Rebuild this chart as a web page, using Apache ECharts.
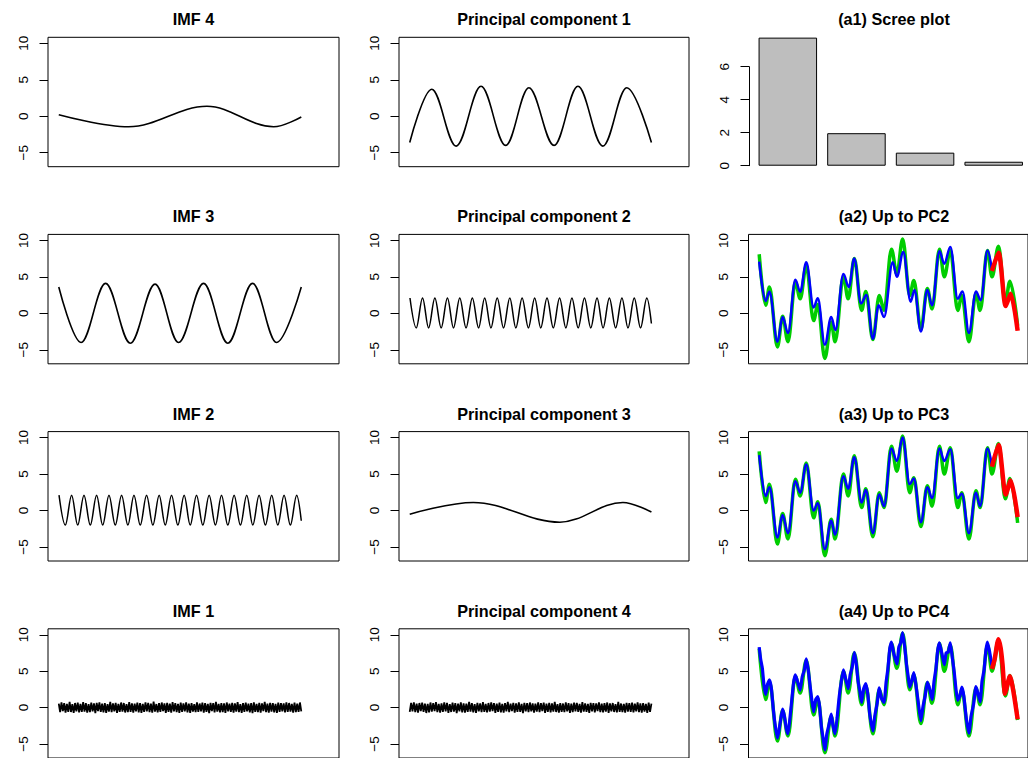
<!DOCTYPE html>
<html><head><meta charset="utf-8">
<script src="https://cdn.jsdelivr.net/npm/echarts@6/dist/echarts.min.js"></script>
<style>html,body{margin:0;padding:0;background:#fff}#c{width:1028px;height:758px}</style>
</head><body><div id="c"></div>
<script>
// ---------- data (time index 0..100 observed, 100..111 forecast) ----------
const panelTitles = [
  ["IMF 4", "Principal component 1", "(a1) Scree plot"],
  ["IMF 3", "Principal component 2", "(a2) Up to PC2"],
  ["IMF 2", "Principal component 3", "(a3) Up to PC3"],
  ["IMF 1", "Principal component 4", "(a4) Up to PC4"]
];
const yTicks = [-5, 0, 5, 10];
const screeCats = ["PC1", "PC2", "PC3", "PC4"];
const screeValues = [7.76, 1.97, 0.79, 0.24];

const imf4 = [[0,0.2],[28.8,-1.45],[61.1,1.36],[88.6,-1.45],[100,-0.1]];
const imf3 = [[0,3.6],[9.2,-4.0],[19.3,4.1],[29.5,-4.1],[39.7,4.0],[49.4,-4.0],[59.7,4.1],[69.7,-4.1],[79.9,4.1],[89.8,-4.0],[100,3.6]];
const imf2 = [[0.1,2.1],[2.7,-2.0],[5.3,2.1],[7.8,-2.0],[10.4,2.1],[13.0,-2.0],[15.6,2.1],[18.1,-2.0],[20.7,2.1],[23.3,-2.0],[25.9,2.1],[28.5,-2.0],[31.0,2.1],[33.6,-2.0],[36.2,2.1],[38.8,-2.0],[41.4,2.1],[43.9,-2.0],[46.5,2.1],[49.1,-2.0],[51.7,2.1],[54.2,-2.0],[56.8,2.1],[59.4,-2.0],[62.0,2.1],[64.6,-2.0],[67.1,2.1],[69.7,-2.0],[72.3,2.1],[74.9,-2.0],[77.5,2.1],[80.0,-2.0],[82.6,2.1],[85.2,-2.0],[87.8,2.1],[90.3,-2.0],[92.9,2.1],[95.5,-2.0],[98.1,2.1],[100,-1.4]];
const imf1 = [0.55,-0.62,0.71,-0.48,0.6,-0.69,0.52,-0.57,0.77,-0.6,0.46,-0.72,0.63,-0.51,0.68,-0.64,0.5,-0.58,0.74,-0.55,0.61,-0.7,0.47,-0.63,0.69,-0.52,0.58,-0.75,0.64,-0.49,0.72,-0.6,0.53,-0.66,0.6,-0.71,0.49,-0.56,0.8,-0.62,0.57,-0.5,0.66,-0.73,0.52,-0.6,0.7,-0.54,0.63,-0.67,0.48,-0.61,0.75,-0.57,0.59,-0.69,0.54,-0.5,0.68,-0.64,0.6,-0.74,0.51,-0.58,0.72,-0.53,0.65,-0.62,0.56,-0.7,0.82,-0.55,0.49,-0.66,0.62,-0.6,0.7,-0.48,0.57,-0.72,0.64,-0.57,0.53,-0.68,0.76,-0.52,0.6,-0.63,0.5,-0.71,0.67,-0.59,0.58,-0.5,0.71,-0.65,0.55,-0.74,0.62,-0.56,0.48,-0.62,0.73,-0.6,0.56,-0.53,0.69,-0.7,0.61,-0.58,0.52,-0.76,0.66,-0.49,0.6,-0.64,0.78,-0.55,0.5,-0.67,0.63,-0.61,0.57,-0.72,0.7,-0.5,0.54,-0.6,0.65,-0.69,0.59,-0.54,0.74,-0.63,0.49,-0.71,0.62,-0.57,0.68,-0.52,0.55,-0.66,0.6,-0.75,0.71,-0.59,0.51,-0.62,0.64,-0.7,0.58,-0.48,0.77,-0.61,0.53,-0.68,0.66,-0.56,0.6,-0.64,0.5,-0.73,0.69,-0.58,0.62,-0.5,0.57,-0.67,0.72,-0.6,0.63,-0.55,0.51,-0.7,0.67,-0.62,0.56,-0.59,0.7,-0.52];

const pc1 = [[0,-3.6],[9.1,3.7],[19.2,-4.1],[29.5,4.1],[39.7,-4.0],[49.3,3.9],[59.7,-4.0],[69.6,4.1],[79.9,-4.1],[89.8,3.9],[100,-3.6]];
const pc2 = [[0.1,2.1],[2.7,-2.0],[5.3,2.1],[7.8,-2.0],[10.4,2.1],[13.0,-2.0],[15.6,2.1],[18.1,-2.0],[20.7,2.1],[23.3,-2.0],[25.9,2.1],[28.5,-2.0],[31.0,2.1],[33.6,-2.0],[36.2,2.1],[38.8,-2.0],[41.4,2.1],[43.9,-2.0],[46.5,2.1],[49.1,-2.0],[51.7,2.1],[54.2,-2.0],[56.8,2.1],[59.4,-2.0],[62.0,2.1],[64.6,-2.0],[67.1,2.1],[69.7,-2.0],[72.3,2.1],[74.9,-2.0],[77.5,2.1],[80.0,-2.0],[82.6,2.1],[85.2,-2.0],[87.8,2.1],[90.3,-2.0],[92.9,2.1],[95.5,-2.0],[98.1,2.1],[100,-1.4]];
const pc3 = [[0,-0.5],[26.3,1.1],[62.1,-1.6],[88.2,1.1],[100,-0.2]];
const pc4 = [-0.58,0.66,-0.5,0.72,-0.61,0.54,-0.7,0.63,-0.47,0.69,-0.6,0.56,-0.74,0.52,-0.65,0.7,-0.55,0.61,-0.49,0.76,-0.63,0.5,-0.68,0.59,-0.57,0.73,-0.52,0.64,-0.71,0.48,-0.6,0.67,-0.54,0.62,-0.76,0.55,-0.5,0.71,-0.64,0.58,-0.69,0.53,-0.59,0.8,-0.56,0.6,-0.66,0.49,-0.72,0.65,-0.51,0.57,-0.62,0.74,-0.6,0.52,-0.67,0.63,-0.55,0.7,-0.48,0.61,-0.73,0.56,-0.58,0.68,-0.64,0.5,-0.7,0.6,-0.53,0.79,-0.61,0.55,-0.49,0.66,-0.68,0.59,-0.57,0.72,-0.6,0.51,-0.75,0.64,-0.52,0.62,-0.63,0.7,-0.5,0.57,-0.69,0.54,-0.56,0.73,-0.61,0.6,-0.48,0.67,-0.72,0.53,-0.59,0.65,-0.66,0.58,-0.54,0.77,-0.6,0.49,-0.7,0.62,-0.57,0.56,-0.63,0.71,-0.51,0.6,-0.74,0.55,-0.62,0.68,-0.5,0.64,-0.58,0.52,-0.69,0.75,-0.56,0.59,-0.6,0.5,-0.71,0.66,-0.53,0.61,-0.65,0.57,-0.48,0.72,-0.62,0.54,-0.67,0.6,-0.55,0.7,-0.73,0.58,-0.52,0.63,-0.6,0.49,-0.66,0.78,-0.57,0.56,-0.62,0.51,-0.7,0.65,-0.54,0.6,-0.59,0.69,-0.64,0.53,-0.5,0.73,-0.61,0.58,-0.68,0.62,-0.56,0.5,-0.72,0.67,-0.6,0.55];

// reconstructions (column 3)
const observed = [[0.15,8.1],[2.9,1.1],[4.55,3.6],[7.99,-4.6],[10.19,-0.4],[12.52,-3.9],[15.68,4.3],[17.75,2.0],[20.36,6.5],[23.52,-1.0],[25.31,1.2],[28.33,-6.2],[31.08,-1.2],[32.73,-3.9],[36.3,5.0],[38.36,2.0],[40.98,7.5],[44.14,0.4],[45.92,3.0],[48.95,-3.6],[51.7,2.45],[53.76,0.4],[56.92,8.8],[59.26,5.4],[61.73,10.2],[64.76,2.45],[66.54,4.5],[69.57,-2.2],[72.32,3.4],[74.38,0.6],[77.54,8.8],[79.6,5.0],[82.21,8.6],[85.37,0.4],[87.16,2.45],[90.19,-3.9],[93.21,2.7],[95.0,0.4],[98.16,8.6],[100.08,5.0],[102.9,9.2],[105.8,1.6],[107.8,4.4],[111.1,-1.7]];
const upToPC2 = [[0.15,7.1],[2.9,1.7],[4.55,2.95],[7.99,-3.9],[10.19,-0.5],[12.52,-2.7],[15.68,4.6],[17.75,2.95],[20.36,7.0],[23.52,0.8],[25.31,2.05],[28.33,-4.3],[31.08,-0.5],[32.86,-2.3],[36.3,5.4],[38.63,3.6],[40.98,7.5],[43.86,1.36],[46.2,2.5],[48.95,-3.5],[51.43,1.1],[53.76,-0.5],[57.46,7.0],[59.26,5.0],[62.0,8.4],[65.17,1.6],[66.82,3.2],[69.57,-2.5],[72.32,3.2],[74.38,1.1],[77.54,8.5],[79.6,6.8],[82.21,9.1],[85.37,2.0],[87.43,3.0],[90.19,-2.7],[93.21,3.0],[95.27,1.8],[98.16,8.6],[100.08,5.9]];
const upToPC3 = [[0.15,7.6],[2.9,2.0],[4.55,3.2],[7.99,-3.7],[10.19,-0.6],[12.52,-3.1],[15.68,4.0],[17.75,2.45],[20.36,6.3],[23.52,0.0],[25.31,1.0],[28.33,-5.3],[31.08,-1.4],[32.73,-3.3],[36.3,4.7],[38.36,3.0],[40.98,7.3],[44.14,1.1],[45.92,2.8],[48.95,-3.1],[51.7,2.2],[53.76,0.6],[56.92,8.5],[59.26,6.8],[61.73,10.0],[64.76,3.6],[66.54,4.4],[69.57,-1.6],[72.32,3.2],[74.38,1.7],[77.54,8.5],[79.6,6.8],[82.21,8.4],[85.37,1.7],[87.16,2.3],[90.19,-3.1],[93.21,2.45],[95.0,0.6],[98.16,8.5],[100.08,6.1]];
const upToPC4 = [[0.15,8.3],[0.8,6.6],[1.5,5.4],[2.2,3.1],[2.9,1.8],[3.7,3.2],[4.55,3.8],[5.4,2.6],[6.2,-0.2],[7.1,-2.6],[7.99,-4.2],[8.7,-3.0],[9.4,-1.6],[10.19,-0.2],[11.0,-1.2],[11.8,-2.9],[12.52,-3.6],[13.3,-1.6],[14.1,0.9],[14.9,3.4],[15.68,4.5],[16.6,3.6],[17.75,2.4],[18.6,4.2],[19.5,5.1],[20.36,6.7],[21.2,5.2],[22.0,3.0],[22.8,0.9],[23.52,-0.6],[24.4,1.1],[25.31,1.5],[26.1,0.1],[26.9,-2.8],[27.6,-4.2],[28.33,-5.8],[29.2,-3.6],[30.2,-2.2],[31.08,-0.9],[31.9,-2.6],[32.73,-3.6],[33.6,-1.4],[34.5,1.5],[35.4,3.6],[36.3,5.2],[37.3,3.9],[38.36,2.6],[39.2,4.5],[40.1,5.6],[40.98,7.6],[41.8,6.1],[42.6,3.6],[43.4,2.2],[44.14,0.7],[45.0,2.6],[45.92,3.3],[46.8,1.8],[47.6,-0.9],[48.95,-3.2],[49.8,-1.1],[50.8,0.6],[51.7,2.7],[52.7,1.2],[53.76,0.7],[54.6,3.4],[55.4,5.3],[56.2,8.1],[56.92,9.0],[58.0,7.3],[59.26,6.0],[60.1,8.3],[60.9,8.9],[61.73,10.3],[62.6,8.4],[63.4,5.9],[64.1,4.3],[64.76,2.8],[65.6,3.6],[66.54,4.8],[67.4,3.2],[68.4,0.8],[69.57,-1.8],[70.5,0.2],[71.4,1.6],[72.32,3.5],[73.3,2.6],[74.38,1.1],[75.2,3.6],[76.0,5.3],[76.8,7.9],[77.54,8.9],[78.6,7.4],[79.6,5.9],[80.4,7.5],[81.3,7.6],[82.21,8.9],[83.0,7.0],[83.9,4.8],[84.6,2.6],[85.37,1.0],[86.3,1.6],[87.16,2.8],[88.0,1.6],[89.1,-1.6],[90.19,-3.5],[91.1,-1.2],[92.2,0.5],[93.21,2.9],[94.1,1.9],[95.0,0.8],[95.8,3.6],[96.7,5.2],[97.5,7.9],[98.16,9.0],[99.1,7.6],[100.08,5.8]];
const forecastPC2 = [[100.08,5.8],[102.9,8.3],[106.0,1.0],[108.1,2.7],[111.1,-2.4]];
const forecastPC3 = [[100.08,6.0],[102.9,9.0],[106.0,2.2],[108.1,4.1],[111.1,-0.9]];
const forecastPC4 = [[100.08,5.3],[101.2,6.6],[102.9,9.4],[103.8,8.2],[104.6,6.0],[105.7,1.9],[106.6,3.0],[107.8,4.3],[108.6,3.4],[109.8,1.2],[111.1,-1.6]];

// ---------- layout ----------
const colLeft = [48, 399, 748.5];
const colWidth = [291, 290, 291];
const rowTop = [37.3, 234.4, 431.6, 628.8];
const boxH = 129.4;
const FONT = "'Liberation Sans', Arial, Helvetica, sans-serif";
const fmt = v => String(v).replace('-', '\u2212');

const grids = [], xAxes = [], yAxes = [], series = [], titles = [];

function addTimePanel(col, row) {
  const gi = grids.length;
  grids.push({left: colLeft[col], top: rowTop[row], width: colWidth[col], height: boxH,
    show: true, borderColor: '#000', borderWidth: 1, backgroundColor: 'transparent'});
  xAxes.push({type: 'value', gridIndex: gi, min: -4.44, max: 115.55, show: false});
  yAxes.push({type: 'value', gridIndex: gi, min: -6.92, max: 10.82, position: 'left',
    axisLine: {show: false, onZero: false}, splitLine: {show: false},
    axisTick: {show: true, inside: false, length: 8.5, customValues: yTicks, lineStyle: {color: '#000', width: 1}},
    axisLabel: {show: true, customValues: yTicks, rotate: 90, margin: 18, fontSize: 13.5,
      color: '#000', fontFamily: FONT, formatter: fmt}});
  return gi;
}
// wave: points are turning points -> horizontal tangents (monotone in x)
function line(gi, data, color, width, smooth, monotone) {
  const s = {type: 'line', xAxisIndex: gi, yAxisIndex: gi, data: data, showSymbol: false,
    smooth: smooth, lineStyle: {color: color, width: width}, silent: true, animation: false};
  if (monotone) s.smoothMonotone = 'x';
  series.push(s);
}
function noise(values) {
  return values.map((v, i) => [i * 100 / (values.length - 1), v]);
}

// column 1
let g;
g = addTimePanel(0, 0); line(g, imf4, '#000', 1.6, 0.36, true);
g = addTimePanel(0, 1); line(g, imf3, '#000', 1.6, 0.36, true);
g = addTimePanel(0, 2); line(g, imf2, '#000', 1.5, 0.36, true);
g = addTimePanel(0, 3); line(g, noise(imf1), '#000', 1.8, false);
// column 2
g = addTimePanel(1, 0); line(g, pc1, '#000', 1.6, 0.36, true);
g = addTimePanel(1, 1); line(g, pc2, '#000', 1.5, 0.36, true);
g = addTimePanel(1, 2); line(g, pc3, '#000', 1.6, 0.36, true);
g = addTimePanel(1, 3); line(g, noise(pc4), '#000', 1.8, false);
// column 3 scree
{
  const gi = grids.length;
  grids.push({left: 753.5, top: rowTop[0], width: 280.8, height: boxH, show: false});
  xAxes.push({type: 'category', gridIndex: gi, data: screeCats, show: false});
  yAxes.push({type: 'value', gridIndex: gi, min: -0.06, max: 7.78, show: false});
  series.push({type: 'bar', xAxisIndex: gi, yAxisIndex: gi, data: screeValues, barWidth: 58.5,
    itemStyle: {color: '#BEBEBE', borderColor: '#000', borderWidth: 1}, silent: true, animation: false});
  const ai = grids.length;
  grids.push({left: 749, top: 66.7, width: 10, height: 99, show: false});
  xAxes.push({type: 'value', gridIndex: ai, min: 0, max: 1, show: false});
  yAxes.push({type: 'value', gridIndex: ai, min: 0, max: 6, interval: 2, position: 'left',
    axisLine: {show: true, onZero: false, lineStyle: {color: '#000', width: 1}}, splitLine: {show: false},
    axisTick: {show: true, inside: false, length: 8.5, lineStyle: {color: '#000', width: 1}},
    axisLabel: {show: true, rotate: 90, margin: 18, fontSize: 13.5, color: '#000', fontFamily: FONT}});
}
const recon = [[upToPC2, forecastPC2], [upToPC3, forecastPC3], [upToPC4, forecastPC4]];
recon.forEach((r, k) => {
  const gi = addTimePanel(2, k + 1);
  line(gi, observed, '#00CD00', 3.5, 0.36, true);
  if (k === 2) line(gi, r[0], '#0000FF', 3.2, 0.15, false);
  else line(gi, r[0], '#0000FF', 2.5, 0.36, true);
  line(gi, r[1], '#FF0000', 4.5, 0.25, false);
});

// titles
for (let r = 0; r < 4; r++) for (let c = 0; c < 3; c++) {
  titles.push({text: panelTitles[r][c], left: colLeft[c] + colWidth[c] / 2, top: rowTop[r] - 26,
    textAlign: 'center', padding: 0,
    textStyle: {fontSize: 16.2, fontWeight: 'bold', fontFamily: FONT, color: '#000'}});
}

const chart = echarts.init(document.getElementById('c'), null, {renderer: 'svg'});
chart.setOption({animation: false, backgroundColor: '#fff', title: titles,
  grid: grids, xAxis: xAxes, yAxis: yAxes, series: series});
</script></body></html>
